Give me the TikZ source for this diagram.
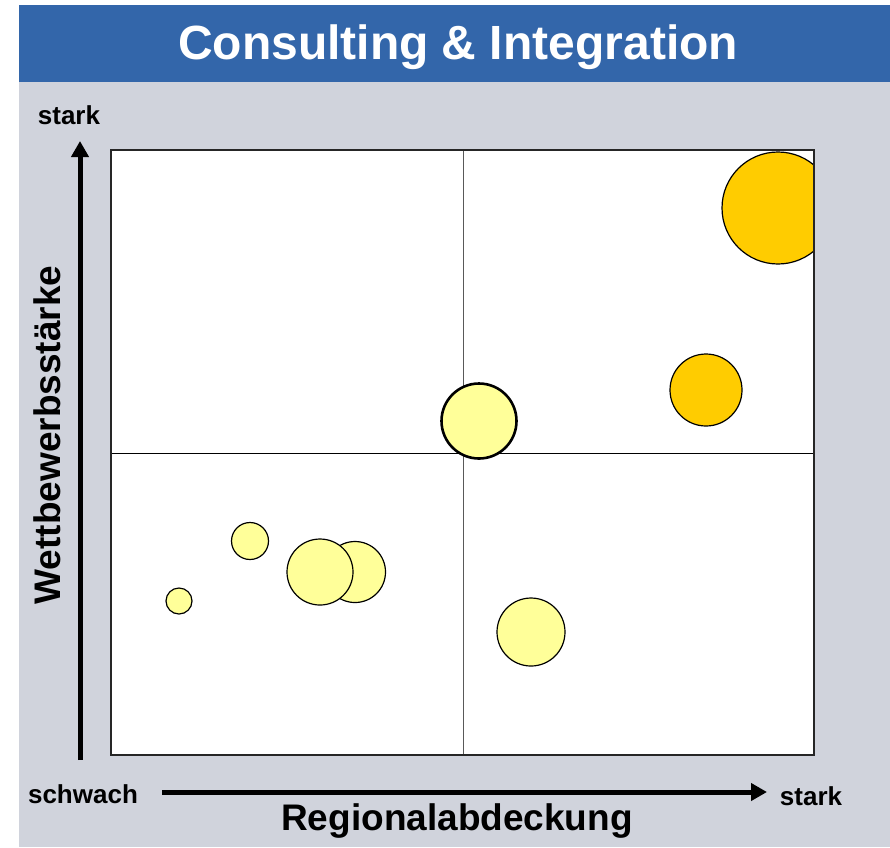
\documentclass[tikz,border=0pt]{standalone}
\usepackage{fontspec}
\setmainfont{Liberation Sans}
\usetikzlibrary{arrows.meta}
\definecolor{titleblue}{HTML}{3366AA}
\definecolor{panelgrey}{HTML}{D0D3DC}
\definecolor{goldfill}{HTML}{FFCC00}
\definecolor{paleyellow}{HTML}{FFFF99}
\tikzset{
  bubble/.style={circle, draw=black, line width=1.2pt, fill=paleyellow, inner sep=0pt, minimum size=#1},
  goldbubble/.style={bubble=#1, fill=goldfill},
  axisarrow/.style={line width=5pt, -{Triangle[length=16pt,width=17pt]}},
  smalllabel/.style={font=\fontsize{26}{29}\selectfont\bfseries, inner sep=0pt},
  biglabel/.style={font=\fontsize{37}{41}\selectfont\bfseries, inner sep=0pt}
}
\begin{document}
\begin{tikzpicture}[x=1pt,y=-1pt]
\useasboundingbox (0,0) rectangle (890,847);
\fill[white] (0,0) rectangle (890,847);
\fill[titleblue] (19,5) rectangle (890,82);
\fill[panelgrey] (19,82) rectangle (890,847);
\node[font=\fontsize{48}{52}\selectfont\bfseries, text=white, inner sep=0pt] (title) at (458,47) {Consulting \& Integration};
% plot area
\fill[white] (111,150) rectangle (814,755);
\begin{scope}
\clip (111,150) rectangle (814,755);
\draw[line width=1pt, gray!70!black] (463,150) -- (463,755);
\draw[line width=0.9pt, black] (111,453) -- (814,453);
\node[goldbubble=112pt] (b1) at (778,208) {};
\node[goldbubble=72pt] (b2) at (706,390) {};
\node[bubble=61pt] (b3) at (355,572) {};
\node[bubble=66pt] (b4) at (320,572) {};
\node[bubble=37pt] (b5) at (250,541) {};
\node[bubble=26pt] (b6) at (179,601) {};
\node[bubble=68pt] (b7) at (531,632) {};
\node[bubble=75pt, line width=2.6pt] (b8) at (479,421) {};
\end{scope}
\draw[line width=1.4pt, black!85] (111,150) rectangle (814,755);
% axes
\coordinate (vstart) at (80,760);
\coordinate (vend) at (80,141);
\coordinate (hstart) at (162,792);
\coordinate (hend) at (767,792);
\draw[axisarrow] (vstart) -- (vend);
\draw[axisarrow] (hstart) -- (hend);
\node[smalllabel] (ytop) at (69,115) {stark};
\node[smalllabel] (xlow) at (83,794) {schwach};
\node[smalllabel] (xtop) at (811,796) {stark};
\node[biglabel] (xlabel) at (457,821) {Regionalabdeckung};
\node[biglabel, rotate=90] (ylabel) at (47,435) {Wettbewerbsstärke};
\end{tikzpicture}
\end{document}
